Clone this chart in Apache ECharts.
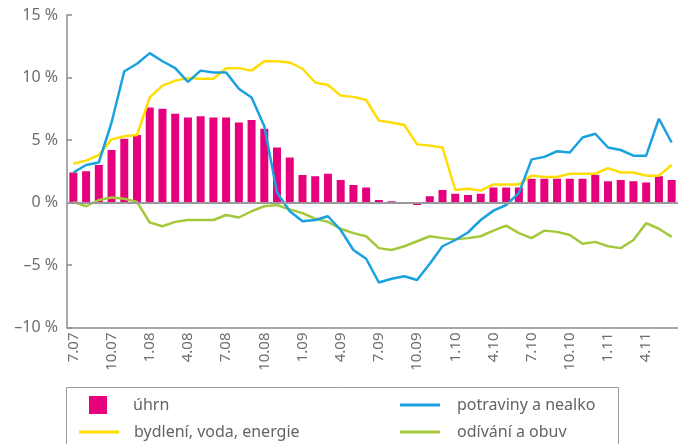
<!DOCTYPE html>
<html>
<head>
<meta charset="utf-8">
<script src="https://cdn.jsdelivr.net/npm/echarts@6/dist/echarts.min.js"></script>
<style>
  html, body { margin: 0; padding: 0; background: #fff; }
  #chart { width: 678px; height: 444px; }
</style>
</head>
<body>
<div id="chart"></div>
<script>
// měsíce 7.07 – 6.11
const months = ['7.07','8.07','9.07','10.07','11.07','12.07',
  '1.08','2.08','3.08','4.08','5.08','6.08','7.08','8.08','9.08','10.08','11.08','12.08',
  '1.09','2.09','3.09','4.09','5.09','6.09','7.09','8.09','9.09','10.09','11.09','12.09',
  '1.10','2.10','3.10','4.10','5.10','6.10','7.10','8.10','9.10','10.10','11.10','12.10',
  '1.11','2.11','3.11','4.11','5.11','6.11'];

// úhrn (sloupce)
const uhrn = [2.4,2.5,3.0,4.2,5.1,5.4,7.6,7.5,7.1,6.8,6.9,6.8,6.8,6.4,6.6,5.9,4.4,3.6,
  2.2,2.1,2.3,1.8,1.4,1.2,0.2,0.1,0.0,-0.2,0.5,1.0,
  0.7,0.6,0.7,1.2,1.2,1.2,1.9,1.9,1.9,1.9,1.9,2.2,
  1.7,1.8,1.7,1.6,2.1,1.8];

// potraviny a nealko
const potraviny = [2.4,3.0,3.2,6.4,10.5,11.1,11.95,11.3,10.75,9.65,10.55,10.4,10.4,9.1,8.4,6.1,0.8,-0.7,
  -1.5,-1.4,-1.1,-2.2,-3.8,-4.5,-6.4,-6.1,-5.9,-6.2,-4.9,-3.5,
  -3.0,-2.4,-1.4,-0.65,-0.2,0.75,3.45,3.65,4.1,4.0,5.2,5.5,
  4.4,4.2,3.75,3.75,6.7,4.8];

// bydlení, voda, energie
const bydleni = [3.1,3.35,3.8,5.05,5.3,5.4,8.4,9.35,9.75,9.95,9.9,9.9,10.75,10.75,10.55,11.3,11.3,11.2,
  10.7,9.6,9.4,8.55,8.45,8.2,6.55,6.4,6.2,4.65,4.55,4.4,
  1.0,1.1,0.95,1.45,1.45,1.45,2.15,2.05,2.05,2.3,2.3,2.3,
  2.75,2.4,2.4,2.15,2.15,3.0];

// odívání a obuv
const odivani = [0.05,-0.3,0.2,0.4,0.3,0.05,-1.6,-1.9,-1.55,-1.4,-1.4,-1.4,-1.0,-1.2,-0.7,-0.3,-0.2,-0.55,
  -0.85,-1.3,-1.55,-2.1,-2.45,-2.7,-3.65,-3.8,-3.5,-3.1,-2.7,-2.85,
  -2.95,-2.85,-2.7,-2.25,-1.85,-2.45,-2.85,-2.25,-2.35,-2.6,-3.3,-3.15,
  -3.5,-3.65,-3.0,-1.65,-2.1,-2.75];

const gray = '#6d6e71';
const axisGray = '#8c8c8c';
const font = 'Noto Sans';

const chart = echarts.init(document.getElementById('chart'));

// jedna legenda pro každou položku
function legendItem(name, left, top, isBar, pad) {
  return {
    data: [name],
    left: left,
    top: top,
    padding: 0,
    selectedMode: false,
    icon: 'rect',
    itemWidth: isBar ? 18 : 40,
    itemHeight: isBar ? 18 : 3,
    textStyle: {
      color: '#636466',
      fontFamily: font,
      fontSize: 16,
      lineHeight: 18,
      padding: [0, 0, 0, pad]
    }
  };
}

chart.setOption({
  animation: false,
  textStyle: { fontFamily: font },
  grid: { left: 67, right: 0, top: 15, bottom: 116.5 },
  legend: [
    legendItem('úhrn', 89, 396, true, 21),
    legendItem('bydlení, voda, energie', 79, 423, false, 10),
    legendItem('potraviny a nealko', 400, 396, false, 12),
    legendItem('odívání a obuv', 400, 423, false, 12)
  ],
  graphic: [{
    type: 'rect',
    shape: { x: 66.5, y: 387.5, width: 552, height: 80 },
    style: { fill: 'none', stroke: '#9a9a9a', lineWidth: 1 },
    silent: true
  }],
  xAxis: {
    type: 'category',
    data: months,
    boundaryGap: true,
    axisLine: { onZero: false, lineStyle: { color: axisGray, width: 1.5 } },
    axisTick: { inside: true, length: 6, interval: 2, lineStyle: { color: axisGray, width: 1.5 } },
    axisLabel: {
      interval: 2, rotate: 90, fontSize: 15, color: gray, margin: 5, fontFamily: font,
      align: 'right', verticalAlign: 'middle'
    }
  },
  yAxis: {
    type: 'value',
    min: -10,
    max: 15,
    interval: 5,
    splitLine: { show: false },
    axisLine: { show: true, lineStyle: { color: axisGray, width: 1.5 } },
    axisTick: { show: true, inside: true, length: 5, lineStyle: { color: axisGray, width: 1.5 } },
    axisLabel: {
      fontSize: 16,
      color: gray,
      margin: 9,
      fontFamily: font,
      formatter: v => String(v).replace('-', '–') + ' %'
    }
  },
  series: [
    {
      name: 'úhrn',
      type: 'bar',
      data: uhrn,
      barWidth: 8,
      itemStyle: { color: '#e6007e' },
      markLine: {
        silent: true,
        symbol: 'none',
        label: { show: false },
        lineStyle: { color: '#999', width: 2, type: 'solid' },
        data: [{ yAxis: 0 }]
      }
    },
    {
      name: 'bydlení, voda, energie',
      type: 'line',
      data: bydleni,
      showSymbol: false,
      symbol: 'none',
      lineStyle: { color: '#ffdd00', width: 2.5 },
      itemStyle: { color: '#ffdd00' }
    },
    {
      name: 'odívání a obuv',
      type: 'line',
      data: odivani,
      showSymbol: false,
      symbol: 'none',
      lineStyle: { color: '#a3c93a', width: 2.5 },
      itemStyle: { color: '#a3c93a' }
    },
    {
      name: 'potraviny a nealko',
      type: 'line',
      data: potraviny,
      showSymbol: false,
      symbol: 'none',
      lineStyle: { color: '#1aa1e0', width: 2.5 },
      itemStyle: { color: '#1aa1e0' }
    }
  ]
});
</script>
</body>
</html>
